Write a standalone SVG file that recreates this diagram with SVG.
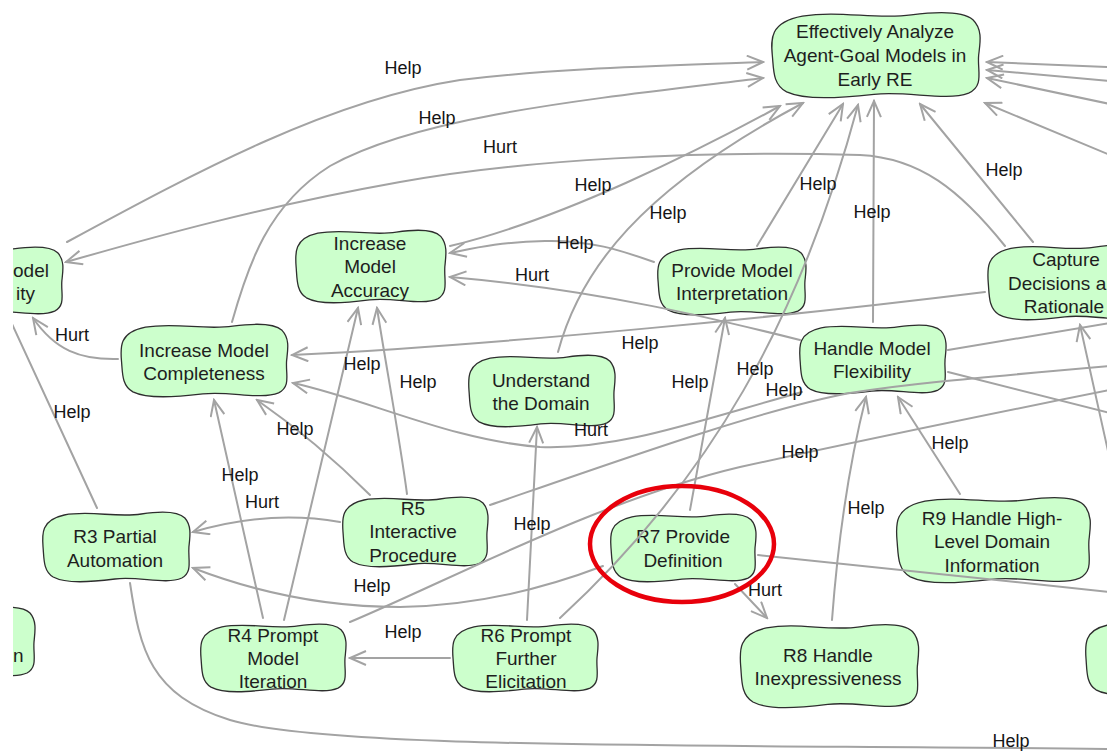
<svg xmlns="http://www.w3.org/2000/svg" xmlns:xlink="http://www.w3.org/1999/xlink" width="1107" height="751" viewBox="0 0 1107 751">
  <style>
    .lbl { font-family: "Liberation Sans", Arial, sans-serif; font-size: 18px; fill: #151515; text-anchor: middle; }
    .nt { font-family: "Liberation Sans", Arial, sans-serif; font-size: 19px; fill: #1e1e1e; text-anchor: middle; }
    .st { text-anchor: start; }
    .edge { fill: none; stroke: #a3a3a3; stroke-width: 2; stroke-linecap: round; }
  </style>
  <defs>
    <!-- soft-goal blob, drawn in a 150x72 box and scaled per node -->
    <path id="blob" d="M 24,5 C 50,0 75,8 100,4 C 120,1 136,1 143,8 C 150,16 148,27 147,37 C 146,50 151,62 140,68 C 124,75 98,66 74,69 C 50,72 26,74 13,67 C 3,61 4,48 3,37 C 2,24 1,10 24,5 Z" fill="#ccffcc" stroke="#2e2e2e" stroke-width="1.3" vector-effect="non-scaling-stroke"/>
    <marker id="arrow" viewBox="-17 -8 19 16" refX="0" refY="0" markerWidth="19" markerHeight="16" markerUnits="userSpaceOnUse" orient="auto">
      <path d="M -16,-7 L 0,0 L -16,7" fill="none" stroke="#a3a3a3" stroke-width="2"/>
    </marker>
    <clipPath id="view">
      <rect x="13" y="0" width="1094" height="751"/>
    </clipPath>
  </defs>
  <rect width="1107" height="751" fill="#ffffff"/>
  <g clip-path="url(#view)">
    <!-- nodes -->
    <g id="n-goal">
      <use xlink:href="#blob" href="#blob" transform="translate(768,10) scale(1.433,1.222)"/>
      <text class="nt" x="875" y="38">Effectively Analyze</text>
      <text class="nt" x="875" y="62">Agent-Goal Models in</text>
      <text class="nt" x="875" y="86">Early RE</text>
    </g>
    <g id="n-complexity">
      <use xlink:href="#blob" href="#blob" transform="translate(-90,245) scale(1.033,0.972)"/>
      <text class="nt st" x="13" y="277">odel</text>
      <text class="nt st" x="16" y="300">ity</text>
    </g>
    <g id="n-accuracy">
      <use xlink:href="#blob" href="#blob" transform="translate(293,228) scale(1.033,1.042)"/>
      <text class="nt" x="370" y="250">Increase</text>
      <text class="nt" x="370" y="273">Model</text>
      <text class="nt" x="370" y="297">Accuracy</text>
    </g>
    <g id="n-completeness">
      <use xlink:href="#blob" href="#blob" transform="translate(118,322) scale(1.147,1.042)"/>
      <text class="nt" x="204" y="357">Increase Model</text>
      <text class="nt" x="204" y="380">Completeness</text>
    </g>
    <g id="n-domain">
      <use xlink:href="#blob" href="#blob" transform="translate(466,353) scale(1.007,1.028)"/>
      <text class="nt" x="541" y="387">Understand</text>
      <text class="nt" x="541" y="410">the Domain</text>
    </g>
    <g id="n-interpretation">
      <use xlink:href="#blob" href="#blob" transform="translate(655,245) scale(1.02,0.972)"/>
      <text class="nt" x="732" y="277">Provide Model</text>
      <text class="nt" x="732" y="300">Interpretation</text>
    </g>
    <g id="n-flexibility">
      <use xlink:href="#blob" href="#blob" transform="translate(797,323) scale(1.007,0.986)"/>
      <text class="nt" x="872" y="355">Handle Model</text>
      <text class="nt" x="872" y="378">Flexibility</text>
    </g>
    <g id="n-rationale">
      <use xlink:href="#blob" href="#blob" transform="translate(985,243) scale(1.08,1.07)"/>
      <text class="nt" x="1066" y="266">Capture</text>
      <text class="nt st" x="1008" y="290">Decisions a</text>
      <text class="nt" x="1064" y="313">Rationale</text>
    </g>
    <g id="n-r3">
      <use xlink:href="#blob" href="#blob" transform="translate(40,510) scale(1.013,1.0)"/>
      <text class="nt" x="115" y="543">R3 Partial</text>
      <text class="nt" x="115" y="567">Automation</text>
    </g>
    <g id="n-r5">
      <use xlink:href="#blob" href="#blob" transform="translate(340,495) scale(1.0,1.0)"/>
      <text class="nt" x="413" y="515">R5</text>
      <text class="nt" x="413" y="538">Interactive</text>
      <text class="nt" x="413" y="562">Procedure</text>
    </g>
    <g id="n-r4">
      <use xlink:href="#blob" href="#blob" transform="translate(198,622) scale(1.0,0.972)"/>
      <text class="nt" x="273" y="642">R4 Prompt</text>
      <text class="nt" x="273" y="665">Model</text>
      <text class="nt" x="273" y="688">Iteration</text>
    </g>
    <g id="n-r6">
      <use xlink:href="#blob" href="#blob" transform="translate(450,622) scale(1.0,0.972)"/>
      <text class="nt" x="526" y="642">R6 Prompt</text>
      <text class="nt" x="526" y="665">Further</text>
      <text class="nt" x="526" y="688">Elicitation</text>
    </g>
    <g id="n-r7">
      <use xlink:href="#blob" href="#blob" transform="translate(608,512) scale(1.0,0.972)"/>
      <text class="nt" x="683" y="543">R7 Provide</text>
      <text class="nt" x="683" y="567">Definition</text>
    </g>
    <g id="n-r8">
      <use xlink:href="#blob" href="#blob" transform="translate(737,622) scale(1.227,1.194)"/>
      <text class="nt" x="828" y="662">R8 Handle</text>
      <text class="nt" x="828" y="685">Inexpressiveness</text>
    </g>
    <g id="n-r9">
      <use xlink:href="#blob" href="#blob" transform="translate(893,495) scale(1.333,1.222)"/>
      <text class="nt" x="992" y="525">R9 Handle High-</text>
      <text class="nt" x="992" y="548">Level Domain</text>
      <text class="nt" x="992" y="572">Information</text>
    </g>
    <g id="n-left-bottom">
      <use xlink:href="#blob" href="#blob" transform="translate(-113,605) scale(1.0,1.0)"/>
      <text class="nt st" x="13" y="662">n</text>
    </g>
    <g id="n-right-bottom">
      <use xlink:href="#blob" href="#blob" transform="translate(1083,620) scale(1.0,1.042)"/>
    </g>

    <!-- connectors -->
    <g id="connectors">
      <path class="edge" marker-end="url(#arrow)" d="M 67,242 C 200,170 330,100 460,80 C 560,68 660,66 763,62"/>
      <path class="edge" marker-end="url(#arrow)" d="M 232,322 C 248,265 268,205 330,166 C 420,115 600,98 763,78"/>
      <path class="edge" marker-end="url(#arrow)" d="M 1005,246 C 960,190 920,158 860,155 C 700,150 520,160 400,182 C 260,207 150,238 66,262"/>
      <path class="edge" marker-end="url(#arrow)" d="M 450,246 C 560,220 700,150 780,106"/>
      <path class="edge" marker-end="url(#arrow)" d="M 558,352 C 580,270 640,190 803,103"/>
      <path class="edge" marker-end="url(#arrow)" d="M 757,246 L 843,104"/>
      <path class="edge" marker-end="url(#arrow)" d="M 560,618 C 710,480 800,320 858,105"/>
      <path class="edge" marker-end="url(#arrow)" d="M 873,322 L 874,101"/>
      <path class="edge" marker-end="url(#arrow)" d="M 1033,242 L 920,104"/>
      <path class="edge" marker-end="url(#arrow)" d="M 1110,67 L 987,62"/>
      <path class="edge" marker-end="url(#arrow)" d="M 1110,81 L 987,70"/>
      <path class="edge" marker-end="url(#arrow)" d="M 1110,104 L 987,78"/>
      <path class="edge" marker-end="url(#arrow)" d="M 1110,155 L 985,103"/>
      <path class="edge" marker-end="url(#arrow)" d="M 654,262 C 620,250 590,240 545,241 C 500,242 475,248 450,253"/>
      <path class="edge" marker-end="url(#arrow)" d="M 800,340 C 720,320 600,290 450,277"/>
      <path class="edge" marker-end="url(#arrow)" d="M 985,292 C 800,315 500,345 292,355"/>
      <path class="edge" marker-end="url(#arrow)" d="M 802,392 C 700,420 620,450 540,447 C 450,440 370,400 293,383"/>
      <path class="edge" d="M 490,505 C 620,460 760,410 850,393 C 900,385 950,380 1110,366"/>
      <path class="edge" d="M 350,622 C 450,580 600,500 740,467 C 850,443 950,422 1110,390"/>
      <path class="edge" d="M 948,372 L 1110,413"/>
      <path class="edge" d="M 948,350 L 1110,323"/>
      <path class="edge" marker-end="url(#arrow)" d="M 1110,460 L 1080,325"/>
      <path class="edge" marker-end="url(#arrow)" d="M 960,494 L 898,397"/>
      <path class="edge" marker-end="url(#arrow)" d="M 832,620 C 838,540 850,460 866,397"/>
      <path class="edge" marker-end="url(#arrow)" d="M 735,584 L 767,618"/>
      <path class="edge" d="M 758,555 L 1110,592"/>
      <path class="edge" marker-end="url(#arrow)" d="M 690,510 L 725,318"/>
      <path class="edge" marker-end="url(#arrow)" d="M 527,620 L 537,427"/>
      <path class="edge" marker-end="url(#arrow)" d="M 450,658 L 350,658"/>
      <path class="edge" marker-end="url(#arrow)" d="M 603,566 C 540,590 470,606 400,607 C 320,607 250,590 193,568"/>
      <path class="edge" marker-end="url(#arrow)" d="M 340,522 C 300,515 250,515 193,532"/>
      <path class="edge" marker-end="url(#arrow)" d="M 370,495 C 340,465 300,430 257,400"/>
      <path class="edge" marker-end="url(#arrow)" d="M 407,494 C 400,440 385,360 377,308"/>
      <path class="edge" marker-end="url(#arrow)" d="M 284,620 L 358,308"/>
      <path class="edge" marker-end="url(#arrow)" d="M 263,618 L 214,400"/>
      <path class="edge" d="M 97,508 L 0,298"/>
      <path class="edge" marker-end="url(#arrow)" d="M 118,359 C 80,360 55,350 33,318"/>
      <path class="edge" d="M 130,583 C 140,650 150,695 230,720 C 330,750 700,744 1110,749"/>
    </g>

    <!-- contribution labels -->
    <g id="labels">
      <text class="lbl" x="403" y="74">Help</text>
      <text class="lbl" x="437" y="124">Help</text>
      <text class="lbl" x="500" y="153">Hurt</text>
      <text class="lbl" x="593" y="191">Help</text>
      <text class="lbl" x="668" y="219">Help</text>
      <text class="lbl" x="818" y="190">Help</text>
      <text class="lbl" x="872" y="218">Help</text>
      <text class="lbl" x="1004" y="176">Help</text>
      <text class="lbl" x="575" y="249">Help</text>
      <text class="lbl" x="532" y="281">Hurt</text>
      <text class="lbl" x="640" y="349">Help</text>
      <text class="lbl" x="72" y="341">Hurt</text>
      <text class="lbl" x="362" y="370">Help</text>
      <text class="lbl" x="418" y="388">Help</text>
      <text class="lbl" x="690" y="388">Help</text>
      <text class="lbl" x="755" y="375">Help</text>
      <text class="lbl" x="784" y="396">Help</text>
      <text class="lbl" x="72" y="418">Help</text>
      <text class="lbl" x="295" y="435">Help</text>
      <text class="lbl" x="591" y="436">Hurt</text>
      <text class="lbl" x="950" y="449">Help</text>
      <text class="lbl" x="800" y="458">Help</text>
      <text class="lbl" x="240" y="481">Help</text>
      <text class="lbl" x="262" y="508">Hurt</text>
      <text class="lbl" x="866" y="514">Help</text>
      <text class="lbl" x="532" y="530">Help</text>
      <text class="lbl" x="372" y="592">Help</text>
      <text class="lbl" x="765" y="596">Hurt</text>
      <text class="lbl" x="403" y="638">Help</text>
      <text class="lbl" x="1011" y="747">Help</text>
    </g>

    <!-- highlight ring around R7 -->
    <ellipse id="highlight" cx="682" cy="544" rx="92" ry="58" fill="none" stroke="#e8000b" stroke-width="4.5"/>
  </g>
</svg>
